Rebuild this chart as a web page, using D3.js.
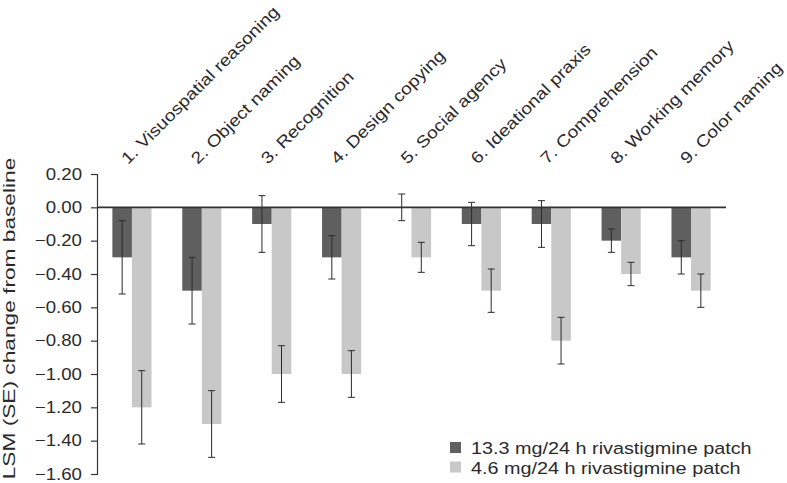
<!DOCTYPE html>
<html>
<head>
<meta charset="utf-8">
<script src="https://cdn.jsdelivr.net/npm/d3@7"></script>
<style>
  html, body { margin: 0; padding: 0; background: #fff; }
  svg { display: block; }
  text { font-family: "Liberation Sans", Arial, Helvetica, sans-serif; fill: #2a2a2a; }
</style>
</head>
<body>
<svg id="chart" width="787" height="483"></svg>
<script>
// ---- Data ----
const categories = [
  "1. Visuospatial reasoning",
  "2. Object naming",
  "3. Recognition",
  "4. Design copying",
  "5. Social agency",
  "6. Ideational praxis",
  "7. Comprehension",
  "8. Working memory",
  "9. Color naming"
];
const seriesNames = ["13.3 mg/24 h rivastigmine patch", "4.6 mg/24 h rivastigmine patch"];
const highDose = [-0.30, -0.50, -0.10, -0.30, 0.00, -0.10, -0.10, -0.20, -0.30];
const highDoseSE = [0.22, 0.20, 0.17, 0.13, 0.08, 0.13, 0.14, 0.07, 0.10];
const lowDose = [-1.20, -1.30, -1.00, -1.00, -0.30, -0.50, -0.80, -0.40, -0.50];
const lowDoseSE = [0.22, 0.20, 0.17, 0.14, 0.09, 0.13, 0.14, 0.07, 0.10];
const yTicks = [0.20, 0.00, -0.20, -0.40, -0.60, -0.80, -1.00, -1.20, -1.40, -1.60];

// ---- Layout ----
const svg = d3.select("#chart");
const colors = ["#5f5f5f", "#c8c8c8"];
const stretch = 1.17;   // glyphs in the source are wider than Arial
const fs = 16.5;

const x0 = d3.scaleBand().domain(categories).range([97, 726]).paddingInner(0.44).paddingOuter(0.22);
const x1 = d3.scaleBand().domain([0, 1]).range([0, x0.bandwidth()]).padding(0);
const y = d3.scaleLinear().domain([-1.6, 0.2]).range([474, 174]);

const rows = categories.map((c, i) => ({
  cat: c,
  vals: [
    { s: 0, v: highDose[i], se: highDoseSE[i] },
    { s: 1, v: lowDose[i], se: lowDoseSE[i] }
  ]
}));

// Bars
const g = svg.append("g");
const groups = g.selectAll("g.grp").data(rows).join("g")
  .attr("class", "grp")
  .attr("transform", d => `translate(${x0(d.cat)},0)`);

groups.selectAll("rect").data(d => d.vals).join("rect")
  .attr("x", d => x1(d.s))
  .attr("width", x1.bandwidth())
  .attr("y", d => Math.min(y(d.v), y(0)))
  .attr("height", d => Math.abs(y(d.v) - y(0)))
  .attr("fill", d => colors[d.s]);

// Zero line
svg.append("line")
  .attr("x1", 97).attr("x2", 726)
  .attr("y1", y(0)).attr("y2", y(0))
  .attr("stroke", "#333").attr("stroke-width", 1.6);

// Error bars
const cap = 3.5;
const eb = groups.selectAll("g.eb").data(d => d.vals).join("g").attr("class", "eb")
  .attr("stroke", "#2b2b2b").attr("stroke-width", 1);
eb.append("line")
  .attr("x1", d => x1(d.s) + x1.bandwidth() / 2).attr("x2", d => x1(d.s) + x1.bandwidth() / 2)
  .attr("y1", d => y(d.v + d.se)).attr("y2", d => y(d.v - d.se));
eb.append("line")
  .attr("x1", d => x1(d.s) + x1.bandwidth() / 2 - cap).attr("x2", d => x1(d.s) + x1.bandwidth() / 2 + cap)
  .attr("y1", d => y(d.v + d.se)).attr("y2", d => y(d.v + d.se));
eb.append("line")
  .attr("x1", d => x1(d.s) + x1.bandwidth() / 2 - cap).attr("x2", d => x1(d.s) + x1.bandwidth() / 2 + cap)
  .attr("y1", d => y(d.v - d.se)).attr("y2", d => y(d.v - d.se));

// Y axis
const yAxis = d3.axisLeft(y).tickValues(yTicks).tickFormat(d3.format(".2f")).tickSize(6).tickPadding(9);
const ya = svg.append("g").attr("transform", "translate(97,0)").call(yAxis);
ya.select(".domain").attr("stroke", "#333").attr("stroke-width", 1.2);
ya.selectAll(".tick line").attr("stroke", "#333").attr("stroke-width", 1.2);
ya.selectAll(".tick text")
  .attr("font-size", fs).attr("fill", "#2a2a2a")
  .attr("font-family", "Liberation Sans, Arial, sans-serif")
  .each(function () {
    const t = d3.select(this);
    const xx = +t.attr("x");
    t.attr("x", 0).attr("transform", `translate(${xx},0) scale(1.13,1)`);
  });

// Y title
svg.append("text")
  .attr("text-anchor", "middle")
  .attr("font-size", 16)
  .attr("transform", `translate(15,${(157 + 480) / 2}) rotate(-90) scale(1.42,1)`)
  .text("LSM (SE) change from baseline");

// Category labels (rotated)
svg.append("g").selectAll("text").data(categories).join("text")
  .attr("font-size", fs)
  .attr("text-anchor", "start")
  .attr("transform", d => `translate(${x0(d) + x0.bandwidth() / 2 - 4},165) rotate(-45) scale(${stretch},1)`)
  .text(d => d);

// Legend
const lg = svg.append("g");
seriesNames.forEach((name, i) => {
  lg.append("rect")
    .attr("x", 450).attr("y", 442 + i * 19.5)
    .attr("width", 11).attr("height", 11)
    .attr("fill", colors[i]);
  lg.append("text")
    .attr("font-size", fs)
    .attr("transform", `translate(471,${454.3 + i * 19.3}) scale(1.2,1)`)
    .text(name);
});
</script>
</body>
</html>
